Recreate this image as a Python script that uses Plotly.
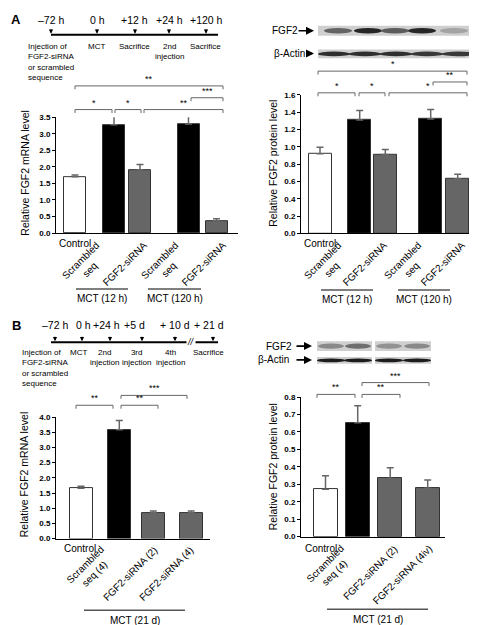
import plotly.graph_objects as go

W, H = 477, 625
FONT = "Liberation Sans, Arial, sans-serif"

# ---------------- data ----------------
A_mrna_labels = ["Control", "Scrambled<br>seq", "FGF2-siRNA", "Scrambled<br>seq", "FGF2-siRNA"]
A_mrna_values = [1.70, 3.27, 1.91, 3.29, 0.37]
A_mrna_errors = [0.05, 0.31, 0.16, 0.30, 0.06]

A_prot_labels = ["Control", "Scrambled<br>seq", "FGF2-siRNA", "Scrambled<br>seq", "FGF2-siRNA"]
A_prot_values = [0.92, 1.31, 0.91, 1.32, 0.63]
A_prot_errors = [0.075, 0.11, 0.06, 0.11, 0.053]

B_mrna_labels = ["Control", "Scrambled<br>seq (4)", "FGF2-siRNA (2)", "FGF2-siRNA (4)"]
B_mrna_values = [1.66, 3.58, 0.85, 0.85]
B_mrna_errors = [0.06, 0.31, 0.06, 0.06]

B_prot_labels = ["Control", "Scrambled<br>seq (4)", "FGF2-siRNA (2)", "FGF2-siRNA (4iv)"]
B_prot_values = [0.272, 0.653, 0.333, 0.277]
B_prot_errors = [0.077, 0.097, 0.062, 0.047]

A_groups = ["MCT (12 h)", "MCT (120 h)"]
B_groups = ["MCT (21 d)"]

A_timeline_times = ["\u201372 h", "0 h", "+12 h", "+24 h", "+120 h"]
A_timeline_events = ["Injection of<br>FGF2-siRNA<br>or scrambled<br>sequence", "MCT", "Sacrifice",
                     "2nd<br>injection", "Sacrifice"]
B_timeline_times = ["\u201372 h", "0 h", "+24 h", "+5 d", "+ 10 d", "+ 21 d"]
B_timeline_events = ["Injection of<br>FGF2-siRNA<br>or scrambled<br>sequence", "MCT", "2nd<br>injection",
                     "3rd<br>injection", "4th<br>injection", "Sacrifice"]

# blot band intensities (0..1)
A_blot_fgf2 = [0.55, 0.9, 0.6, 0.9, 0.2]
A_blot_actin = [0.85, 0.85, 0.85, 0.8, 0.8]
B_blot_fgf2 = [0.35, 0.5, 0.3, 0.35]
B_blot_actin = [0.95, 0.95, 0.95, 0.95]

BAR_COLORS_A = ["white", "black", "#666666", "black", "#666666"]
BAR_COLORS_B = ["white", "black", "#666666", "#666666"]


def X(px):
    return px / W


def Y(py):
    return 1 - py / H


fig = go.Figure()
shapes = []
ann = []


def text(px, py, t, size=10, xa="center", ya="middle", angle=0, align="center"):
    ann.append(dict(x=X(px), y=Y(py), xref="paper", yref="paper", text=t, showarrow=False,
                    xanchor=xa, yanchor=ya, textangle=angle, align=align, borderpad=0,
                    font=dict(family=FONT, size=size, color="black")))


# ---------------- bar panels ----------------
panels = [
    dict(ax="", vals=A_mrna_values, errs=A_mrna_errors, cols=BAR_COLORS_A,
         centers=[67, 106, 132, 180.5, 208.5], bw=22, xr=(48, 230), y0=224.3, y1=106.7,
         ymax=3.5, dtick=0.5, title="Relative FGF2 mRNA level", tx=17, ty=164),
    dict(ax="2", vals=A_prot_values, errs=A_prot_errors, cols=BAR_COLORS_A,
         centers=[312, 351.7, 377.3, 422.7, 449.7], bw=23, xr=(293, 467), y0=224.7, y1=84,
         ymax=1.6, dtick=0.2, title="Relative FGF2 protein level", tx=265, ty=154),
    dict(ax="3", vals=B_mrna_values, errs=B_mrna_errors, cols=BAR_COLORS_B,
         centers=[73, 111.3, 145.3, 183.2], bw=23, xr=(48, 202), y0=534.3, y1=411,
         ymax=4.0, dtick=0.5, title="Relative FGF2 mRNA level", tx=16, ty=470),
    dict(ax="4", vals=B_prot_values, errs=B_prot_errors, cols=BAR_COLORS_B,
         centers=[317.5, 349.7, 382.2, 419.7], bw=24, xr=(293, 437), y0=532.3, y1=390.7,
         ymax=0.8, dtick=0.1, title="Relative FGF2 protein level", tx=265, ty=462),
]

layout_axes = {}
for p in panels:
    fig.add_trace(go.Bar(
        x=p["centers"], y=p["vals"], width=p["bw"],
        marker=dict(color=p["cols"], line=dict(color="#333333", width=1)),
        error_y=dict(type="data", array=p["errs"], arrayminus=[0] * len(p["vals"]),
                     symmetric=False, color="#666666", thickness=1.5, width=3.5),
        xaxis="x" + p["ax"], yaxis="y" + p["ax"], showlegend=False, hoverinfo="skip"))
    layout_axes["xaxis" + p["ax"]] = dict(
        domain=[X(p["xr"][0]), X(p["xr"][1])], range=list(p["xr"]),
        anchor="y" + p["ax"], showline=True, linecolor="black", linewidth=1,
        showticklabels=False, ticks="", showgrid=False, zeroline=False, fixedrange=True)
    layout_axes["yaxis" + p["ax"]] = dict(
        domain=[Y(p["y0"]), Y(p["y1"])], range=[0, p["ymax"]], dtick=p["dtick"],
        anchor="x" + p["ax"], showline=True, linecolor="black", linewidth=1,
        ticks="outside", ticklen=3, tickcolor="black", tickformat=".1f",
        tickfont=dict(family=FONT, size=8, color="black", weight="bold"),
        showgrid=False, zeroline=False, fixedrange=True)
    text(p["tx"], p["ty"], p["title"], size=10.5, angle=-90)


# ---------------- category labels ----------------
def cat_labels(labels, control_pos, tr_pos):
    text(control_pos[0], control_pos[1], labels[0], size=10)
    for lab, (px, py) in zip(labels[1:], tr_pos):
        text(px, py, lab, size=10, xa="right", ya="top", angle=-45)


cat_labels(A_mrna_labels, (67, 235), [(104, 229), (143, 229), (183, 229), (222, 229)])
cat_labels(A_prot_labels, (312, 235), [(346, 229), (383, 229), (426, 229), (461, 229)])
cat_labels(B_mrna_labels, (72, 544), [(109, 538), (153, 538), (189, 538)])
cat_labels(B_prot_labels, (313, 544), [(349, 537), (393, 537), (428, 537)])


def group(t, x1, x2, y):
    shapes.append(dict(type="line", xref="paper", yref="paper", x0=X(x1), x1=X(x2), y0=Y(y), y1=Y(y),
                       line=dict(color="#555555", width=1.5)))
    text((x1 + x2) / 2, y + 10, t, size=10)


group(A_groups[0], 68, 120, 281)
group(A_groups[1], 140, 193, 281)
group(A_groups[0], 313, 365, 282)
group(A_groups[1], 390, 442, 282)
group(B_groups[0], 76, 177, 607)
group(B_groups[0], 319, 420, 606)


# ---------------- significance brackets ----------------
def bracket(x1, x2, y, label):
    d = 3.5 / H
    path = "M {a},{b} L {a},{c} L {e},{c} L {e},{b}".format(a=X(x1), b=Y(y) - d, c=Y(y), e=X(x2))
    shapes.append(dict(type="path", xref="paper", yref="paper", path=path,
                       line=dict(color="#666666", width=1)))
    text((x1 + x2) / 2, y - 1, label, size=9, ya="bottom")


# A mRNA
bracket(67, 215, 75, "**")
bracket(183, 215, 87, "***")
bracket(67, 104, 99, "*")
bracket(107, 133, 99, "*")
bracket(136, 215, 99, "**")
# A protein
bracket(310, 459, 60, "*")
bracket(425, 459, 71, "**")
bracket(310, 347, 82, "*")
bracket(351, 377, 82, "*")
bracket(381, 459, 82, "*")
# B mRNA
bracket(113, 179, 389, "***")
bracket(68, 105, 399, "**")
bracket(113, 150, 399, "**")
# B protein
bracket(354, 421, 376, "***")
bracket(309, 347, 388, "**")
bracket(354, 392, 388, "**")


# ---------------- timelines ----------------
def timeline(x1, x2, yl, arrows_x, times, times_x, ty, events, events_x, ey, first_left):
    shapes.append(dict(type="line", xref="paper", yref="paper", x0=X(x1), x1=X(x2), y0=Y(yl), y1=Y(yl),
                       line=dict(color="black", width=2)))
    for ax_ in arrows_x:
        ann.append(dict(x=X(ax_), y=Y(yl - 1), xref="paper", yref="paper", text="", showarrow=True,
                        ax=0, ay=-6, arrowhead=2, arrowsize=0.7, arrowwidth=1.2, arrowcolor="black"))
    for t, tx in zip(times, times_x):
        text(tx, ty, t, size=10.5)
    for i, (e, ex) in enumerate(zip(events, events_x)):
        if i == 0:
            text(first_left, ey, e, size=8, xa="left", ya="top", align="left")
        else:
            text(ex, ey, e, size=8, ya="top")


timeline(43, 210, 23, [43, 89, 127, 161, 198], A_timeline_times, [43, 89, 127, 161, 198], 8.5,
         A_timeline_events, [20, 88, 127, 161, 197], 29, 19)
timeline(43, 210, 335, [47, 74, 102, 134, 167, 205], B_timeline_times, [47, 75, 98, 127, 167, 201], 318,
         B_timeline_events, [14, 70, 96, 128, 162, 200], 340, 13)
ann.append(dict(x=X(183), y=Y(335), xref="paper", yref="paper", text="<i>//</i>", showarrow=False,
                xanchor="center", yanchor="middle",
                bgcolor="white", borderpad=0, font=dict(family=FONT, size=9, color="black")))

# panel letters
text(8, 8, "<b>A</b>", size=13)
text(8, 318, "<b>B</b>", size=13)


# ---------------- western blots ----------------
def blot(strips, y0, y1, centers, hw, intens, label, lx, ly, arr_x0, arr_x1):
    for (s0, s1) in strips:
        shapes.append(dict(type="rect", xref="paper", yref="paper", x0=X(s0), x1=X(s1), y0=Y(y1), y1=Y(y0),
                           fillcolor="#cfcfcf", line=dict(width=0), layer="below"))
    ym = (y0 + y1) / 2
    hh = (y1 - y0) / 2
    for c, v in zip(centers, intens):
        g = int(200 - 180 * v)
        col = "rgb({0},{0},{0})".format(g)
        shapes.append(dict(type="circle", xref="paper", yref="paper", x0=X(c - hw), x1=X(c + hw),
                           y0=Y(ym + hh * 0.55), y1=Y(ym - hh * 0.55), fillcolor=col, line=dict(width=0)))
    text(lx, ly, label, size=10)
    ann.append(dict(x=X(arr_x1), y=Y(ly), xref="paper", yref="paper", text="", showarrow=True,
                    ax=-(arr_x1 - arr_x0), ay=0, arrowhead=2, arrowsize=1, arrowwidth=1.6,
                    arrowcolor="black"))


blot([(310, 467)], 14, 24, [330, 360, 387, 414, 446], 14, A_blot_fgf2, "FGF2", 277, 19, 289, 306)
blot([(310, 467)], 38, 47, [326, 357, 388, 419, 450], 16, A_blot_actin, "\u03b2-Actin", 281, 42, 297, 306)
blot([(309, 364), (367, 423)], 334, 344, [323, 350, 381, 409], 13, B_blot_fgf2, "FGF2", 271, 339, 287, 304)
blot([(309, 364), (367, 423)], 350, 357, [323, 350, 381, 409], 14, B_blot_actin, "\u03b2-Actin", 265, 353,
     287, 304)

fig.update_layout(
    width=W, height=H, autosize=False,
    margin=dict(l=0, r=0, t=0, b=0),
    paper_bgcolor="white", plot_bgcolor="white",
    font=dict(family=FONT, color="black"),
    shapes=shapes, annotations=ann, bargap=0, showlegend=False,
    **layout_axes)

fig.write_html("out.html", config={"displayModeBar": False})
